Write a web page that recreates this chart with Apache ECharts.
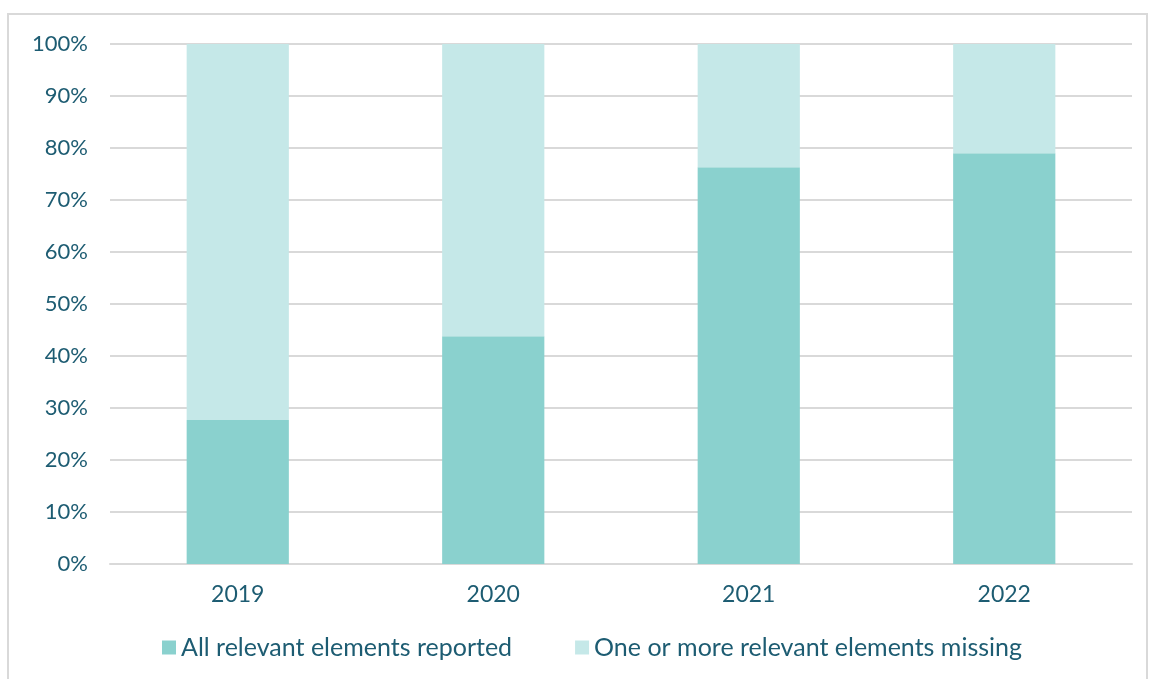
<!DOCTYPE html>
<html>
<head>
<meta charset="utf-8">
<script src="https://cdn.jsdelivr.net/npm/echarts@6/dist/echarts.min.js"></script>
<style>
  html, body { margin: 0; padding: 0; background: #ffffff; }
  #chart { width: 1149px; height: 679px; }
</style>
</head>
<body>
<div id="chart"></div>
<script>
// Share of reports by year
const years = ['2019', '2020', '2021', '2022'];
const allReported = [27.7, 43.8, 76.3, 79.0];
const someMissing = [72.3, 56.2, 23.7, 21.0];
const yTicks = [0, 10, 20, 30, 40, 50, 60, 70, 80, 90, 100];

const textColor = '#1d5c72';
const fontFamily = 'Lato, "Open Sans", sans-serif';

const chart = echarts.init(document.getElementById('chart'));
chart.setOption({
  animation: false,
  textStyle: { fontFamily: fontFamily },
  graphic: [{
    type: 'rect',
    shape: { x: 8, y: 14, width: 1139, height: 700 },
    style: { fill: 'none', stroke: '#d9d9d9', lineWidth: 2 },
    silent: true
  }],
  grid: { left: 110, right: 17, top: 44, bottom: 115 },
  legend: {
    top: 630,
    left: 157,
    itemWidth: 14,
    itemHeight: 14,
    itemGap: 63,
    icon: 'rect',
    textStyle: { color: textColor, fontSize: 25, fontFamily: fontFamily },
    data: ['All relevant elements reported', 'One or more relevant elements missing']
  },
  xAxis: {
    type: 'category',
    data: years,
    axisLine: { lineStyle: { color: '#d9d9d9', width: 2 } },
    axisTick: { show: false },
    axisLabel: { color: textColor, fontSize: 23, margin: 19, fontFamily: fontFamily }
  },
  yAxis: {
    type: 'value',
    min: yTicks[0],
    max: yTicks[yTicks.length - 1],
    interval: 10,
    axisLine: { show: false },
    axisTick: { show: false },
    splitLine: { lineStyle: { color: '#d9d9d9', width: 2 } },
    axisLabel: { color: textColor, fontSize: 22, margin: 22, fontFamily: fontFamily, formatter: '{value}%' }
  },
  series: [
    {
      name: 'All relevant elements reported',
      type: 'bar',
      stack: 'total',
      barWidth: '40%',
      data: allReported,
      itemStyle: { color: '#8ad1ce' }
    },
    {
      name: 'One or more relevant elements missing',
      type: 'bar',
      stack: 'total',
      barWidth: '40%',
      data: someMissing,
      itemStyle: { color: '#c5e8e8' }
    }
  ]
});
</script>
</body>
</html>
